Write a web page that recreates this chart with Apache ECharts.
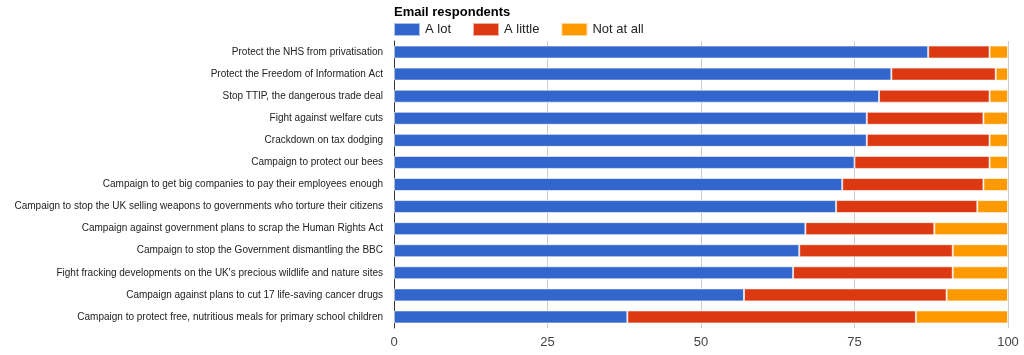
<!DOCTYPE html>
<html><head><meta charset="utf-8">
<script src="https://cdn.jsdelivr.net/npm/echarts@6/dist/echarts.min.js"></script>
<style>html,body{margin:0;padding:0;background:#fff}#c{width:1024px;height:355px}</style>
</head><body><div id="c"></div>
<script>
var categories = [
  "Protect the NHS from privatisation",
  "Protect the Freedom of Information Act",
  "Stop TTIP, the dangerous trade deal",
  "Fight against welfare cuts",
  "Crackdown on tax dodging",
  "Campaign to protect our bees",
  "Campaign to get big companies to pay their employees enough",
  "Campaign to stop the UK selling weapons to governments who torture their citizens",
  "Campaign against government plans to scrap the Human Rights Act",
  "Campaign to stop the Government dismantling the BBC",
  "Fight fracking developments on the UK's precious wildlife and nature sites",
  "Campaign against plans to cut 17 life-saving cancer drugs",
  "Campaign to protect free, nutritious meals for primary school children"
];
var aLot =     [87, 81, 79, 77, 77, 75, 73, 72, 67, 66, 65, 57, 38];
var aLittle =  [10, 17, 18, 19, 20, 22, 23, 23, 21, 25, 26, 33, 47];
var notAtAll = [3, 2, 3, 4, 3, 3, 4, 5, 12, 9, 9, 10, 15];
var seriesNames = ["A lot", "A little", "Not at all"];
var colors = ["#3366cc", "#dc3912", "#ff9900"];
var xTicks = [0, 25, 50, 75, 100];

var font = "Liberation Sans, Arial, sans-serif";
var chart = echarts.init(document.getElementById('c'), null, {renderer: 'canvas'});
function mk(name, data, color) {
  return {
    name: name, type: 'bar', stack: 'total', data: data, barWidth: 13,
    itemStyle: {color: color, borderColor: 'rgba(255,255,255,0.6)', borderWidth: 1},
    emphasis: {disabled: true}, animation: false
  };
}
chart.setOption({
  animation: false,
  color: colors,
  title: {
    text: "Email respondents", left: 389, top: 1,
    textStyle: {fontFamily: font, fontSize: 13, fontWeight: 'bold', color: '#000'}
  },
  legend: {
    data: seriesNames, left: 388, top: 17, itemWidth: 26, itemHeight: 13, itemGap: 21,
    icon: 'rect',
    textStyle: {fontFamily: font, fontSize: 13, color: '#222'}
  },
  grid: {left: 394, right: 16, top: 41, bottom: 27, containLabel: false, outerBoundsMode: 'none'},
  xAxis: {
    type: 'value', min: xTicks[0], max: xTicks[xTicks.length - 1], interval: 25,
    axisLine: {show: false}, axisTick: {show: false},
    splitLine: {show: true, lineStyle: {color: '#cccccc', width: 1}},
    axisLabel: {fontFamily: font, fontSize: 13, color: '#444', margin: 8,
      formatter: function (v) { return xTicks.indexOf(v) >= 0 ? String(v) : ''; }}
  },
  yAxis: {
    type: 'category', data: categories, inverse: true,
    axisLine: {show: true, lineStyle: {color: '#333', width: 1}},
    axisTick: {show: false},
    axisLabel: {fontFamily: font, fontSize: 10, color: '#222', margin: 11}
  },
  series: [mk(seriesNames[0], aLot, colors[0]), mk(seriesNames[1], aLittle, colors[1]), mk(seriesNames[2], notAtAll, colors[2])]
});
</script></body></html>
